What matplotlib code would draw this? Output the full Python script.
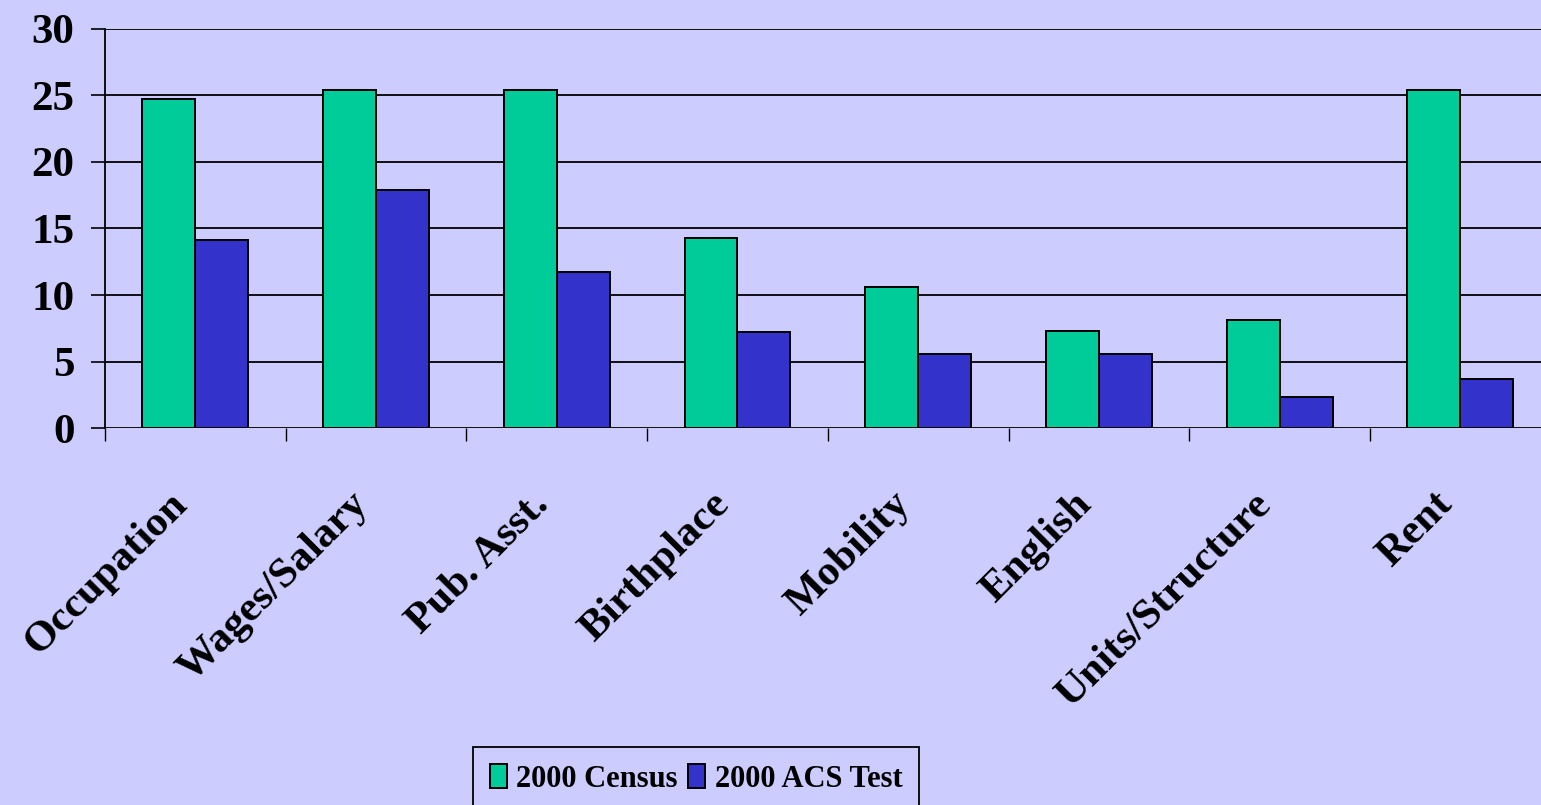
import matplotlib.pyplot as plt
import numpy as np

# Datos
categorias = ["Occupation", "Wages/Salary", "Pub. Asst.", "Birthplace",
              "Mobility", "English", "Units/Structure", "Rent"]
censo_2000 = [24.7, 25.4, 25.4, 14.3, 10.6, 7.3, 8.1, 25.4]
acs_2000 = [14.1, 17.9, 11.7, 7.2, 5.6, 5.6, 2.3, 3.7]
yticks = [0, 5, 10, 15, 20, 25, 30]

fondo = "#CCCCFF"
verde = "#00CC99"
azul = "#3333CC"
fuente = "Liberation Serif"

fig = plt.figure(figsize=(15.41, 8.05), dpi=100, facecolor=fondo)
ax = fig.add_axes([0.0681, 0.4683, 0.9382, 0.4957], facecolor=fondo)

x = np.arange(len(categorias)) + 0.5
ancho = 0.293
ax.bar(x - ancho / 2, censo_2000, ancho, color=verde, edgecolor="black",
       linewidth=1.4, label="2000 Census", zorder=3)
ax.bar(x + ancho / 2, acs_2000, ancho, color=azul, edgecolor="black",
       linewidth=1.4, label="2000 ACS Test", zorder=3)

ax.set_xlim(0, len(categorias))
ax.set_ylim(0, 30)

# Líneas de grilla horizontales
for v in yticks:
    ax.axhline(v, color="black", linewidth=1.3, zorder=1)

ax.set_yticks(yticks)
ax.set_yticklabels([str(v) for v in yticks], fontfamily=fuente,
                   fontweight="bold", fontsize=31)
ax.tick_params(axis="y", direction="out", length=10, width=1.2, pad=12)

# Marcas del eje x en los bordes de cada categoría
ax.set_xticks(np.arange(len(categorias) + 1))
ax.set_xticklabels([])
ax.tick_params(axis="x", direction="out", length=9.5, width=1.0)
ax.set_xticks(x, minor=True)
ax.set_xticklabels(categorias, minor=True, rotation=45, ha="right", va="top",
                   fontfamily=fuente, fontweight="bold", fontsize=31)
ax.tick_params(axis="x", which="minor", length=0, pad=41)

for s in ["top", "right", "bottom"]:
    ax.spines[s].set_visible(False)
ax.spines["left"].set_linewidth(1.3)
ax.spines["left"].set_zorder(4)

leg = fig.legend(loc="upper left", bbox_to_anchor=(0.307, 0.072),
                 bbox_transform=fig.transFigure, ncol=2, frameon=True,
                 fancybox=False, edgecolor="black", facecolor=fondo,
                 framealpha=1, borderaxespad=0, handlelength=0.56,
                 handleheight=0.85, handletextpad=0.3, columnspacing=0.35,
                 borderpad=0.55,
                 prop={"family": fuente, "weight": "bold", "size": 22})
leg.get_frame().set_linewidth(1.3)

fig.savefig("out.png", dpi=100, facecolor=fondo)
